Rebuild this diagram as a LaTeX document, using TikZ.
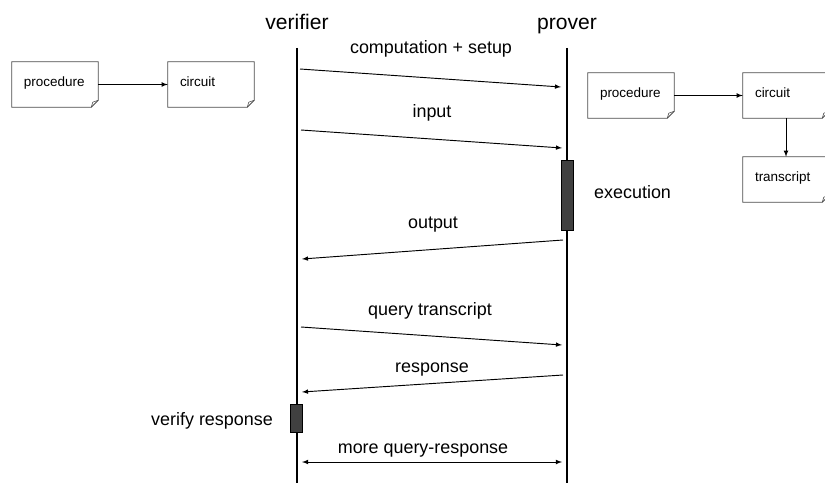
\documentclass[tikz,border=0pt]{standalone}
\usepackage{fontspec}
\setmainfont{Liberation Sans}
\usepackage{tikz}
\usetikzlibrary{arrows,backgrounds,calc}

\tikzset{
  partyname/.style={font=\fontsize{18}{20}\selectfont, anchor=base, inner sep=0pt},
  msglabel/.style={font=\fontsize{15.3}{17}\selectfont, anchor=base, inner sep=0pt},
  lifeline/.style={line width=1.7pt},
  msg/.style={-latex, line width=0.8pt},
  activity/.style={draw=black, line width=0.6pt, fill=black!75, minimum width=0.36cm, inner sep=0pt},
  docnode/.style={minimum width=2.58cm, minimum height=1.35cm, text width=1.86cm, inner xsep=0.36cm,
    align=left, text height=8pt, text depth=4pt, font=\fontsize{11.5}{13}\selectfont},
  docline/.style={draw=black!70, line width=0.7pt},
}

\begin{document}
\begin{tikzpicture}[x=0.03cm, y=-0.03cm]
\useasboundingbox (0,0) rectangle (825,483);

% parties and lifelines
\node[partyname] (verifier) at (297,30) {verifier};
\node[partyname] (prover) at (567,30) {prover};
\coordinate (vtop) at (297,48);
\coordinate (vbot) at (297,483);
\coordinate (ptop) at (567,48);
\coordinate (pbot) at (567,483);
\draw[lifeline] (vtop) -- (vbot);
\draw[lifeline] (ptop) -- (pbot);

% activity bars
\node[activity, minimum height=2.1cm] (exec) at (567,195) {};
\node[activity, minimum height=0.84cm] (vbar) at (296,418) {};
\node[msglabel, anchor=base west] (execlabel) at (594,198) {execution};
\node[msglabel, anchor=base east] (vbarlabel) at (273,425) {verify response};

% messages
\coordinate (v1) at (300,69);  \coordinate (p1) at (561,87);
\coordinate (v2) at (301,130); \coordinate (p2) at (562,148);
\coordinate (p3) at (563,240); \coordinate (v3) at (302,259);
\coordinate (v4) at (301,327); \coordinate (p4) at (562,345);
\coordinate (p5) at (563,375); \coordinate (v5) at (302,392);
\coordinate (v6) at (302,462); \coordinate (p6) at (562,462);
\draw[msg] (v1) -- (p1);
\draw[msg] (v2) -- (p2);
\draw[msg] (p3) -- (v3);
\draw[msg] (v4) -- (p4);
\draw[msg] (p5) -- (v5);
\draw[msg, latex-latex] (v6) -- (p6);
\node[msglabel] (l1) at (431,54) {computation + setup};
\node[msglabel] (l2) at (432,118) {input};
\node[msglabel] (l3) at (433,228) {output};
\node[msglabel] (l4) at (430,315) {query transcript};
\node[msglabel] (l5) at (432,372) {response};
\node[msglabel] (l6) at (423,453) {more query-response};

% documents
\node[docnode] (lproc) at (55,84.5) {procedure};
\node[docnode] (lcirc) at (211,84.5) {circuit};
\node[docnode] (rproc) at (631,95.5) {procedure};
\node[docnode] (rcirc) at (786,95.5) {circuit};
\node[docnode] (rtrans) at (786,179.5) {transcript};
\foreach \n in {lproc,lcirc,rproc,rcirc,rtrans}{
  \draw[docline] (\n.north west) -- (\n.north east) -- ($(\n.south east)+(0,-7)$)
    -- ($(\n.south east)+(-7,0)$) -- (\n.south west) -- cycle;
  \draw[docline, line width=0.5pt] ($(\n.south east)+(-7,0)$) -- ($(\n.south east)+(-5.5,-5)$)
    -- ($(\n.south east)+(0,-7)$);
}
\draw[msg] (lproc) -- (lcirc);
\draw[msg] (rproc) -- (rcirc);
\draw[msg] (rcirc) -- (rtrans);
\end{tikzpicture}
\end{document}
